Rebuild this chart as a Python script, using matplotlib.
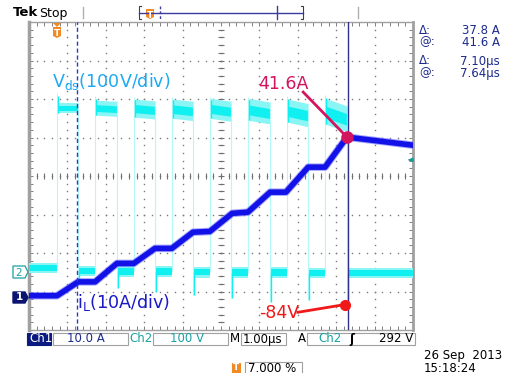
import matplotlib
matplotlib.use('Agg')
from matplotlib import pyplot
from matplotlib.patches import Rectangle, Polygon
import numpy

W, H = 513, 373

# ch1: inductor current corners, time in us from left edge of screen
i_time = [0.0, 0.73, 1.28, 1.72, 2.29, 2.73, 3.28, 3.72, 4.27, 4.71, 5.29, 5.70,
          6.28, 6.69, 7.27, 7.71, 8.28, 10.0]
i_amp = [0.4, 0.4, 4.0, 4.0, 8.8, 8.8, 12.7, 12.7, 16.9, 17.1, 21.8, 22.1,
         27.3, 27.3, 33.8, 33.8, 41.6, 39.5]

# ch2: Vds switching pulses (V)
pulse_on = [0.73, 1.72, 2.73, 3.72, 4.71, 5.70, 6.72, 7.71]
pulse_off = [1.28, 2.29, 3.28, 4.27, 5.26, 6.28, 7.27, 8.28]
pulse_top = [439, 447, 450, 450, 452, 452, 450, 452]
pulse_bottom = [413, 408, 403, 400, 400, 395, 390, 385]
pulse_sag = [0, 3, 5, 6, 8, 10, 12, 20]
pulse_peak = [465, 458, 455, 455, 455, 455, 458, 460]
low_level = [11, 3, 2, 1, 0, -1, -1, -2, -2]
low_dip = [-20, -42, -52, -60, -68, -78, -72, -84]

ch1_pos, ch1_scale = 0.85, 10.0    # div, A/div
ch2_pos, ch2_scale = 1.50, 100.0   # div, V/div
cur_a, cur_b = 1.25, 8.30          # cursor times
trig_level = 292


def fx(x):
    return x / W


def fy(y):
    return 1 - y / H


def idiv(a):
    return ch1_pos + numpy.asarray(a) / ch1_scale


def vdiv(v):
    return ch2_pos + numpy.asarray(v) / ch2_scale


fig = pyplot.figure(figsize=(W / 100, H / 100), dpi=100)
fig.patch.set_facecolor('white')
ax = fig.add_axes([fx(29), fy(330), (413 - 29) / W, (330 - 22) / H])
ax.set_xlim(0, 10)
ax.set_ylim(0, 8)
ax.set_xticks([])
ax.set_yticks([])
for s in ax.spines.values():
    s.set_color('#a0a0a0')
    s.set_linewidth(1.0)
ax.spines['left'].set_linewidth(2.5)
ax.spines['right'].set_linewidth(2.0)

# graticule
minor_x = numpy.arange(0, 10.01, 0.2)
minor_y = numpy.arange(0, 8.01, 0.2)
for gx in range(1, 10):
    if gx != 5:
        ax.plot(numpy.full(minor_y.size, gx), minor_y, ls='none', marker='s',
                ms=1.0, mew=0, color='#7a7a7a', zorder=1)
for gy in range(1, 8):
    if gy != 4:
        ax.plot(minor_x, numpy.full(minor_x.size, gy), ls='none', marker='s',
                ms=1.0, mew=0, color='#7a7a7a', zorder=1)
ax.plot(numpy.full(minor_y.size, 5), minor_y, ls='none', marker='_', ms=5,
        mew=0.8, color='#707070', zorder=1)
ax.plot(minor_x, numpy.full(minor_x.size, 4), ls='none', marker='|', ms=5,
        mew=0.8, color='#707070', zorder=1)
ax.plot(minor_x, numpy.full(minor_x.size, 4), ls='none', marker='s', ms=1.0,
        mew=0, color='#707070', zorder=1)
ax.plot(numpy.full(minor_y.size, 5), minor_y, ls='none', marker='s', ms=1.0,
        mew=0, color='#707070', zorder=1)
for yy in (0.02, 7.98):
    ax.plot(minor_x, numpy.full(minor_x.size, yy), ls='none', marker='|', ms=4,
            mew=0.7, color='#808080', zorder=1)
for xx in (0.02, 9.98):
    ax.plot(numpy.full(minor_y.size, xx), minor_y, ls='none', marker='_', ms=4,
            mew=0.7, color='#808080', zorder=1)

# ch2 Vds trace
cyan = '#10f0f0'
light = '#8af5f5'
edge = '#b5f8f8'
starts = [0.0] + pulse_off
ends = pulse_on + [10.0]
for k in range(len(low_level)):
    xs = [starts[k], ends[k]]
    lv = low_level[k]
    ax.fill_between(xs, vdiv(lv - 14), vdiv(lv + 14), color=light, lw=0, zorder=3)
    ax.fill_between(xs, vdiv(lv - 8), vdiv(lv + 9), color=cyan, lw=0, zorder=3)
for k in range(len(pulse_on)):
    xs = [pulse_on[k], pulse_off[k]]
    tp, bt, sg = pulse_top[k], pulse_bottom[k], pulse_sag[k]
    span = tp - bt
    ax.fill_between(xs, vdiv([bt, bt - sg]), vdiv([tp, tp - sg]),
                    color=light, lw=0, zorder=3)
    ax.fill_between(xs, vdiv([bt + 0.25 * span, bt + 0.25 * span - sg]),
                    vdiv([tp - 0.3 * span, tp - 0.3 * span - sg]),
                    color=cyan, lw=0, zorder=3)
    ax.vlines(pulse_on[k], vdiv(low_level[k]), vdiv(pulse_peak[k]),
              color=edge, lw=0.8, zorder=3)
    ax.vlines(pulse_on[k] + 0.03, vdiv(bt), vdiv(pulse_peak[k] - 8),
              color=cyan, lw=1.0, zorder=3)
    ax.vlines(pulse_off[k], vdiv(low_dip[k]), vdiv(tp - sg),
              color=edge, lw=0.8, zorder=3)
    ax.vlines(pulse_off[k] + 0.03, vdiv(low_dip[k]), vdiv(low_level[k + 1]),
              color=cyan, lw=1.0, zorder=3)

# ch1 current trace
ax.plot(i_time, idiv(i_amp), color='#6a6aff', lw=5.4, alpha=0.6,
        solid_joinstyle='round', zorder=4)
ax.plot(i_time, idiv(i_amp), color='#1212e8', lw=4.0,
        solid_joinstyle='round', zorder=5)

# cursors
ax.axvline(cur_a, color='#2a3cc0', lw=1.0, ls=(0, (3, 2)), zorder=6)
ax.axvline(cur_b, color='#30308f', lw=1.0, zorder=6)

# annotations
ax.plot(8.28, idiv(41.6), 'o', ms=8, color='#d3145f', zorder=8)
ax.plot([8.28, 7.14], [idiv(41.6), 6.18], color='#d3145f', lw=2, zorder=8)
ax.text(5.98, 6.4, '41.6A', color='#d3145f', fontsize=12.5, va='center',
        ha='left', zorder=8)
ax.plot(8.22, vdiv(-84), 'o', ms=7, color='#f01818', zorder=8)
ax.plot([8.22, 7.0], [vdiv(-84), 0.46], color='#f01818', lw=2, zorder=8)
ax.text(5.98, 0.43, '-84V', color='#f01818', fontsize=12.5, va='center',
        ha='left', zorder=8)
ax.text(0.6, 6.45, r'V$_\mathregular{ds}$(100V/div)', color='#1eaaf0',
        fontsize=12.6, va='center', ha='left', zorder=8)
ax.text(1.26, 0.72, r'i$_\mathregular{L}$(10A/div)', color='#1a1ac8',
        fontsize=12.6, va='center', ha='left', zorder=8)

# trigger level arrow on right edge
ax.annotate('', xy=(9.8, vdiv(trig_level)), xytext=(10.0, vdiv(trig_level)),
            arrowprops=dict(arrowstyle='-|>', color='#169a9a', lw=1.0,
                            mutation_scale=6), zorder=8)

orange = '#f08a24'
navy = '#1b2a8c'
teal = '#18a2a2'


def box(x0, y0, x1, y1, fc='white', ec='#a0a0a0', lw=0.8):
    fig.add_artist(Rectangle((fx(x0), fy(y1)), fx(x1) - fx(x0), fy(y0) - fy(y1),
                             transform=fig.transFigure, fc=fc, ec=ec, lw=lw))


def txt(x, y, s, **kw):
    kw.setdefault('fontsize', 8.5)
    kw.setdefault('va', 'center')
    fig.text(fx(x), fy(y), s, **kw)


def tmark(x, y0, y1):
    fig.add_artist(Polygon([(fx(x - 4), fy(y0)), (fx(x + 4), fy(y0)),
                            (fx(x + 4), fy(y1 - 2)), (fx(x), fy(y1)),
                            (fx(x - 4), fy(y1 - 2))], closed=True,
                           transform=fig.transFigure, fc=orange, ec='none'))
    txt(x, (y0 + y1) / 2 + 1, 'T', color='white', fontsize=6.5, ha='center',
        fontweight='bold')


# top bar
txt(13, 13, 'Tek', fontsize=9.5, fontweight='bold', color='black')
txt(39, 13, 'Stop', fontsize=9, color='black')
for gx in (83, 358):
    fig.add_artist(pyplot.Line2D([fx(gx), fx(gx)], [fy(7), fy(18)],
                                 transform=fig.transFigure, color='#b0b0b0', lw=1))
fig.add_artist(pyplot.Line2D([fx(139), fx(303)], [fy(13), fy(13)],
                             transform=fig.transFigure, color='#3c3ca0', lw=1))
for bx, d in ((139, 1), (303, -1)):
    fig.add_artist(pyplot.Line2D([fx(bx + 2 * d), fx(bx), fx(bx), fx(bx + 2 * d)],
                                 [fy(6), fy(6), fy(19), fy(19)],
                                 transform=fig.transFigure, color='#404040', lw=0.8))
fig.add_artist(pyplot.Line2D([fx(160), fx(160)], [fy(6), fy(19)], ls=(0, (2, 1.5)),
                             transform=fig.transFigure, color='#3c3ca0', lw=1))
fig.add_artist(pyplot.Line2D([fx(277), fx(277)], [fy(6), fy(19)],
                             transform=fig.transFigure, color='#3c3ca0', lw=1))
tmark(150, 9, 19)
tmark(57, 27, 38)
fig.add_artist(Polygon([(fx(53), fy(23)), (fx(61), fy(23)), (fx(57), fy(27))],
                       transform=fig.transFigure, fc=orange, ec='none'))

# cursor readouts
for y, a, b in ((30, 'Δ:', '37.8 A'), (42, '@:', '41.6 A'),
                (61, 'Δ:', '7.10μs'), (73, '@:', '7.64μs')):
    txt(419, y, a, color=navy, fontsize=8.5)
    txt(500, y, b, color=navy, fontsize=8.5, ha='right')

# channel ground markers
fig.add_artist(Polygon([(fx(13), fy(266)), (fx(25), fy(266)), (fx(28), fy(272)),
                        (fx(25), fy(278)), (fx(13), fy(278))],
                       transform=fig.transFigure, fc='white', ec=teal, lw=0.9))
txt(19, 272.5, '2', color=teal, ha='center', fontsize=7.5)
fig.add_artist(Polygon([(fx(13), fy(292)), (fx(25), fy(292)), (fx(28), fy(297.5)),
                        (fx(25), fy(303)), (fx(13), fy(303))],
                       transform=fig.transFigure, fc='#0a1470', ec='#0a1470'))
txt(19, 297.5, '1', color='white', ha='center', fontsize=7.5, fontweight='bold')

# status bar
box(27, 333, 51, 345, fc='#0a1a80', ec='#0a1a80')
txt(29, 339, 'Ch1', color='white', fontsize=8.5)
box(53, 333, 128, 345)
txt(67, 339, '10.0 A', color=navy)
txt(129, 339, 'Ch2', color=teal)
box(153, 333, 228, 345)
txt(170, 339, '100 V', color=teal)
txt(230, 339, 'M', color='black')
box(241, 333, 286, 345)
txt(243, 339, '1.00μs', color='black')
txt(298, 339, 'A', color='black')
box(307, 333, 415, 345)
txt(318, 339, 'Ch2', color=teal)
txt(349, 339, 'ʃ', color='black', fontweight='bold')
txt(413, 339, '292 V', color='black', ha='right')
txt(424, 355, '26 Sep  2013', color='black')
txt(424, 368, '15:18:24', color='black')
box(232, 363, 240, 372, fc=orange, ec=orange)
txt(236, 367.5, 'T', color='white', fontsize=6.5, ha='center', fontweight='bold')
box(245, 362, 302, 376)
txt(248, 368, '7.000 %', color='black')

fig.savefig('out.png', dpi=100)
